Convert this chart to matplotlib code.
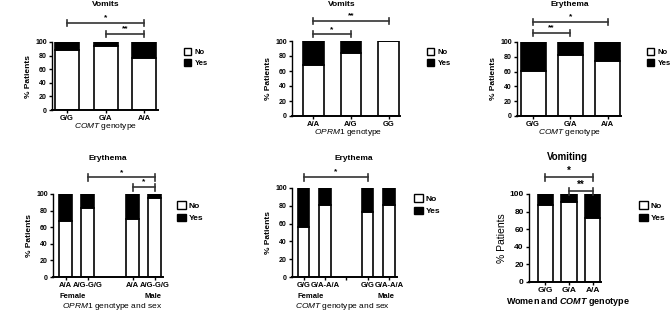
import matplotlib
matplotlib.use('Agg')
import matplotlib.pyplot as plt
from matplotlib.patches import Patch

plt.rcParams['font.family'] = ['Liberation Sans', 'DejaVu Sans']
plt.rcParams['mathtext.fontset'] = 'custom'
plt.rcParams['mathtext.it'] = 'Liberation Sans:italic'
plt.rcParams['mathtext.bfit'] = 'Liberation Sans:italic:bold'
plt.rcParams['mathtext.rm'] = 'Liberation Sans'

# percent of patients answering "No" (rest is "Yes")
p1_cats = ['G/G', 'G/A', 'A/A']
p1_no = [88, 94, 77]
p2_cats = ['A/A', 'A/G', 'GG']
p2_no = [68, 84, 100]
p3_cats = ['G/G', 'G/A', 'A/A']
p3_no = [61, 83, 75]
p4_cats = ['A/A', 'A/G-G/G', 'A/A', 'A/G-G/G']
p4_no = [68, 83, 70, 95]
p5_cats = ['G/G', 'G/A-A/A', 'G/G', 'G/A-A/A']
p5_no = [56, 81, 73, 81]
p6_cats = ['G/G', 'G/A', 'A/A']
p6_no = [88, 91, 73]

W, H = 670, 316
fig = plt.figure(figsize=(W / 100, H / 100), dpi=100)


def make_ax(x0, y0, x1, y1):
    return fig.add_axes([x0 / W, 1 - y1 / H, (x1 - x0) / W, (y1 - y0) / H])


def ftext(x, y, s, **kw):
    # text placed by pixel position from the top-left corner
    return fig.text(x / W, 1 - y / H, s, ha='center', va='center', **kw)


def panel(ax, pos, cats, no, width, xlim, tick_fs=5.5, ytick_fs=5):
    yes = [100 - v for v in no]
    ax.bar(pos, no, width, color='white', edgecolor='black', linewidth=1.2, zorder=2)
    ax.bar(pos, yes, width, bottom=no, color='black', edgecolor='black', linewidth=1.2, zorder=2)
    ax.set_xlim(*xlim)
    ax.set_ylim(0, 100)
    ax.set_yticks([0, 20, 40, 60, 80, 100])
    ax.set_xticks(pos)
    ax.set_xticklabels(cats, fontsize=tick_fs, fontweight='bold')
    for lab in ax.get_yticklabels():
        lab.set_fontsize(ytick_fs)
        lab.set_fontweight('bold')
    for s in ['top', 'right']:
        ax.spines[s].set_visible(False)
    ax.spines['left'].set_linewidth(1.0)
    ax.spines['bottom'].set_linewidth(1.4)
    ax.tick_params(axis='both', length=2.5, width=1.0, pad=1.2)


def sig(ax, x1, x2, y, label, cap=4, fs=6):
    ax.plot([x1, x2], [y, y], color='#333333', lw=1.2, clip_on=False)
    ax.plot([x1, x1], [y - cap, y + cap], color='#333333', lw=1.2, clip_on=False)
    ax.plot([x2, x2], [y - cap, y + cap], color='#333333', lw=1.2, clip_on=False)
    ax.text((x1 + x2) / 2, y + 2, label, ha='center', va='bottom', fontsize=fs,
            fontweight='bold', clip_on=False)


def legend(ax, x, y, fs=5.5):
    handles = [Patch(facecolor='white', edgecolor='black', linewidth=1.0, label='No'),
               Patch(facecolor='black', edgecolor='black', label='Yes')]
    ax.legend(handles=handles, loc='upper left', bbox_to_anchor=(x / W, 1 - y / H),
              bbox_transform=fig.transFigure, frameon=False,
              handlelength=1.0, handleheight=1.0, handletextpad=0.4,
              labelspacing=0.45, borderpad=0, prop={'weight': 'bold', 'size': fs})


# panel 1
ax = make_ax(52, 42, 158, 110)
panel(ax, [0, 1, 2], p1_cats, p1_no, 0.62, (-0.39, 2.35))
ax.set_ylabel('% Patients', fontsize=6, fontweight='bold', labelpad=2)
ftext(106, 5, 'Vomits', fontsize=6, fontweight='bold')
ftext(106, 127, r'$\mathit{COMT}$ genotype', fontsize=6)
sig(ax, 0, 2, 128, '*')
sig(ax, 1, 2, 112, '**')
legend(ax, 180, 44)

# panel 2
ax = make_ax(292, 41, 400, 116)
panel(ax, [0, 1, 2], p2_cats, p2_no, 0.55, (-0.56, 2.3))
ax.set_ylabel('% Patients', fontsize=6, fontweight='bold', labelpad=2)
ftext(342, 5, 'Vomits', fontsize=6, fontweight='bold')
ftext(348, 133, r'$\mathit{OPRM1}$ genotype', fontsize=6)
sig(ax, 0, 2, 127, '**')
sig(ax, 0, 1, 109, '*')
legend(ax, 423, 44)

# panel 3
ax = make_ax(517, 42, 621, 116)
panel(ax, [0, 1, 2], p3_cats, p3_no, 0.67, (-0.43, 2.36))
ax.set_ylabel('% Patients', fontsize=6, fontweight='bold', labelpad=2)
ftext(570, 5, 'Erythema', fontsize=6, fontweight='bold')
ftext(570, 133, r'$\mathit{COMT}$ genotype', fontsize=6)
sig(ax, 0, 2, 127, '*')
sig(ax, 0, 1, 112, '**')
legend(ax, 643, 44)

# panel 4
ax = make_ax(53, 194, 163, 277)
panel(ax, [0, 1, 3, 4], p4_cats, p4_no, 0.58, (-0.56, 4.36))
ax.set_ylabel('% Patients', fontsize=6, fontweight='bold', labelpad=2)
ftext(108, 158, 'Erythema', fontsize=6, fontweight='bold')
ftext(112, 307, r'$\mathit{OPRM1}$ genotype and sex', fontsize=6)
tr = ax.get_xaxis_transform()
ax.text(-0.29, -0.19, 'Female', transform=tr, ha='left', va='top', fontsize=5.5, fontweight='bold')
ax.text(4.29, -0.19, 'Male', transform=tr, ha='right', va='top', fontsize=5.5, fontweight='bold')
sig(ax, 1, 4, 120, '*')
sig(ax, 3, 4, 108, '*')
legend(ax, 173, 197, fs=6)

# panel 5
ax = make_ax(292, 188, 397, 277)
panel(ax, [0, 1, 3, 4], p5_cats, p5_no, 0.54, (-0.54, 4.37))
ax.set_xticks([0, 1, 2, 3, 4])
ax.set_xticklabels([p5_cats[0], p5_cats[1], '', p5_cats[2], p5_cats[3]],
                   fontsize=5.5, fontweight='bold')
ax.set_ylabel('% Patients', fontsize=6, fontweight='bold', labelpad=2)
ftext(354, 158, 'Erythema', fontsize=6, fontweight='bold')
ftext(343, 307, r'$\mathit{COMT}$ genotype and sex', fontsize=6)
tr = ax.get_xaxis_transform()
ax.text(-0.27, -0.18, 'Female', transform=tr, ha='left', va='top', fontsize=5.5, fontweight='bold')
ax.text(4.27, -0.18, 'Male', transform=tr, ha='right', va='top', fontsize=5.5, fontweight='bold')
sig(ax, 0, 3, 112, '*')
legend(ax, 410, 190, fs=6)

# panel 6
ax = make_ax(529, 194, 601, 282)
panel(ax, [0, 1, 2], p6_cats, p6_no, 0.64, (-0.7, 2.36), tick_fs=6, ytick_fs=6)
ax.set_ylabel('% Patients', fontsize=7.5, labelpad=2)
ftext(567, 157, 'Vomiting', fontsize=7, fontweight='bold')
ftext(568, 301, r'Women and $\mathbfit{COMT}$ genotype', fontsize=6.5, fontweight='bold')
sig(ax, 0, 2, 119, '*', fs=7)
sig(ax, 1, 2, 103, '**', fs=7)
legend(ax, 635, 197, fs=6)

fig.savefig('out.png', dpi=100)
